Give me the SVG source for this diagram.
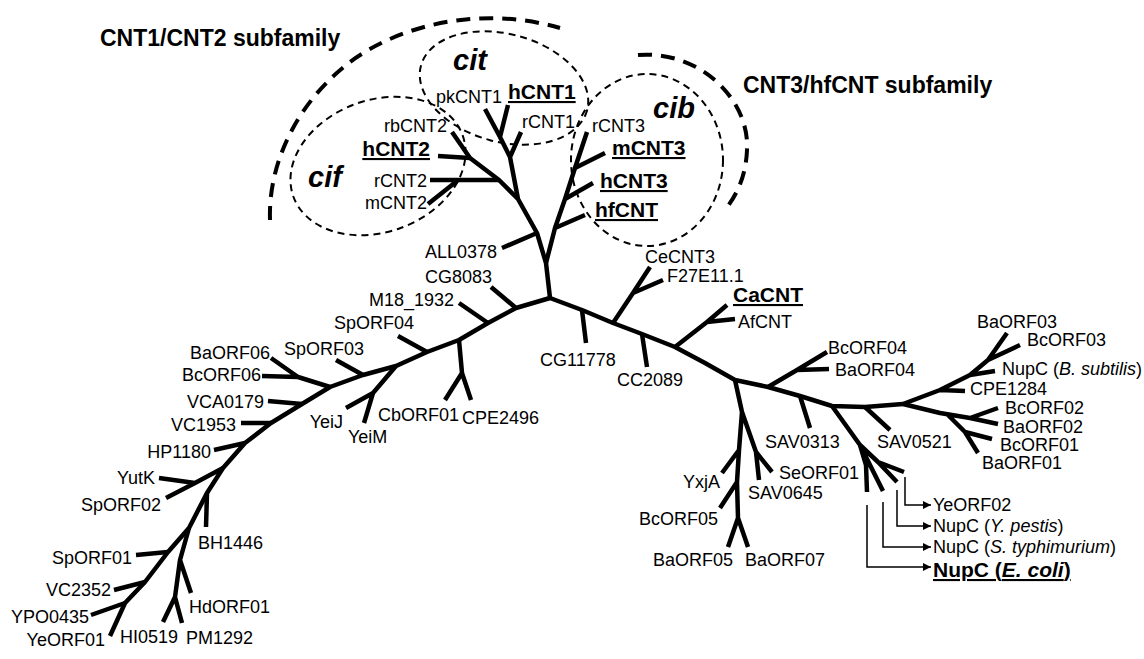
<svg xmlns="http://www.w3.org/2000/svg" width="1144" height="659" viewBox="0 0 1144 659">
<style>
.br{fill:none;stroke:#000;stroke-width:4.5;stroke-linejoin:round;stroke-linecap:butt}
.ar{fill:none;stroke:#000;stroke-width:1.5}
text{font-family:"Liberation Sans",Arial,sans-serif;font-size:18px;fill:#000}
.e{text-anchor:end}
.bd{font-weight:bold;font-size:21px;text-decoration:underline}
.ti{font-weight:bold;font-size:23px}
.cl{font-weight:bold;font-style:italic;font-size:29px}
.it{font-style:italic}
.dl{fill:none;stroke:#000;stroke-width:4;stroke-dasharray:14 9}
.ds{fill:none;stroke:#000;stroke-width:2;stroke-dasharray:7 5}
</style>
<defs>
<marker id="ah" viewBox="0 0 10 10" refX="10" refY="5" markerUnits="userSpaceOnUse" markerWidth="9" markerHeight="8" orient="auto"><path d="M0,0 L10,5 L0,10 z" fill="#000"/></marker>
</defs>
<rect width="1144" height="659" fill="#fff"/>

<g id="clades">
<path class="dl" d="M270,220 C268,160 300,100 350,62 C400,25 480,5 560,28"/>
<path class="dl" d="M638,55 C700,50 750,100 747,150 C746,175 738,192 728,206"/>
<ellipse class="ds" cx="504" cy="88" rx="86" ry="54" transform="rotate(15 504 88)"/>
<ellipse class="ds" cx="378" cy="166" rx="90" ry="66" transform="rotate(-20 378 166)"/>
<ellipse class="ds" cx="647" cy="160" rx="76" ry="86"/>
<g id="t-cnt12"><text class="ti" x="100" y="46">CNT1/CNT2 subfamily</text></g>
<g id="t-cnt3"><text class="ti" x="743" y="93">CNT3/hfCNT subfamily</text></g>
<g id="t-cit"><text class="cl" x="453" y="70">cit</text></g>
<g id="t-cif"><text class="cl" x="308" y="187">cif</text></g>
<g id="t-cib"><text class="cl" x="653" y="118">cib</text></g>
</g>

<g id="connectors">
<path class="br" d="M550,298 L546,263 L537,233 L518,199 L499,180 L470,158 L452,132"/>
<path class="br" d="M537,233 L502,248 M470,158 L438,156 M499,180 L430,180 M457,181 L428,204"/>
<path class="br" d="M518,199 L510,157 L500,137 L485,109 M500,137 L508,105 M510,157 L521,132"/>
<path class="br" d="M546,263 L555,228 L565,199 L575,168 L587,132 M555,228 L585,215 M565,199 L593,183 M575,168 L605,153"/>
<path class="br" d="M550,298 L516,308 L488,323 L459,340 L427,352 L396,366 L363,375 L330,387 L302,404 L271,423 L245,443 L223,468 L207,493 L189,528 L168,552 L145,582 L125,603 L110,636"/>
<path class="br" d="M516,308 L491,287 M488,323 L459,303 M459,340 L462,373 L445,400 M462,373 L471,400 M427,352 L398,336 M396,366 L373,393 L346,408 M373,393 L364,423 M363,375 L336,360 M330,387 L298,377 L271,358 M298,377 L262,376 M302,404 L268,401 M271,423 L241,423 M245,443 L214,450 M223,468 L195,483 L159,478 M195,483 L166,498 M207,493 L206,527 M189,528 L180,560 L191,593 M180,560 L175,597 L163,622 M175,597 L182,623 M168,552 L136,555 M145,582 L114,590 M125,603 L91,615"/>
<path class="br" d="M550,298 L582,310 L613,323 L642,334 L675,347 L705,363 L735,380 L768,387 L800,396 L832,406 L865,407 L903,404"/>
<path class="br" d="M582,310 L586,343 M613,323 L633,293 L650,267 M633,293 L663,280 M642,334 L647,367 M675,347 L707,322 L727,305 M707,322 L735,319"/>
<path class="br" d="M735,380 L742,412 L739,450 L737,482 L738,518 L728,547 M738,518 L748,547 M742,412 L756,452 L772,472 M756,452 L759,480 M739,450 L722,473 M737,482 L720,508"/>
<path class="br" d="M768,387 L797,370 L827,352 M797,370 L829,369 M800,396 L810,428 M865,407 L890,430"/>
<path class="br" d="M832,406 L860,445 L866,465 L867,492 M860,445 L883,491 M860,445 L878,462 L904,472 M878,462 L897,482"/>
<path class="br" d="M903,404 L940,390 L970,375 L988,360 L1007,333 M988,360 L1020,345 M940,390 L965,391 M970,375 L995,371"/>
<path class="br" d="M903,404 L940,413 L970,418 L998,408 M970,418 L998,424 M948,415 L965,432 L992,439 M965,432 L978,453"/>
<path class="ar" marker-end="url(#ah)" d="M905,477 V505 H931"/>
<path class="ar" marker-end="url(#ah)" d="M897,490 V526 H931"/>
<path class="ar" marker-end="url(#ah)" d="M883,502 V547 H931"/>
<path class="ar" marker-end="url(#ah)" d="M867,505 V567 H931"/>
</g>

<g id="n-pkCNT1"><text class="e" x="502" y="103">pkCNT1</text></g>
<g id="n-hCNT1"><text class="bd" x="508" y="99">hCNT1</text></g>
<g id="n-rCNT1"><text x="522" y="128">rCNT1</text></g>
<g id="n-rbCNT2"><text class="e" x="447" y="132">rbCNT2</text></g>
<g id="n-hCNT2"><text class="bd e" x="430" y="156">hCNT2</text></g>
<g id="n-rCNT2"><text class="e" x="427" y="187">rCNT2</text></g>
<g id="n-mCNT2"><text class="e" x="427" y="209">mCNT2</text></g>
<g id="n-rCNT3"><text x="592" y="132">rCNT3</text></g>
<g id="n-mCNT3"><text class="bd" x="612" y="155">mCNT3</text></g>
<g id="n-hCNT3"><text class="bd" x="600" y="188">hCNT3</text></g>
<g id="n-hfCNT"><text class="bd" x="595" y="217">hfCNT</text></g>
<g id="n-ALL0378"><text class="e" x="497" y="258">ALL0378</text></g>
<g id="n-CG8083"><text class="e" x="492" y="283">CG8083</text></g>
<g id="n-M18_1932"><text class="e" x="454" y="306">M18_1932</text></g>
<g id="n-SpORF04"><text class="e" x="414" y="329">SpORF04</text></g>
<g id="n-SpORF03"><text class="e" x="364" y="355">SpORF03</text></g>
<g id="n-BaORF06"><text class="e" x="270" y="359">BaORF06</text></g>
<g id="n-BcORF06"><text class="e" x="261" y="381">BcORF06</text></g>
<g id="n-VCA0179"><text class="e" x="264" y="408">VCA0179</text></g>
<g id="n-VC1953"><text class="e" x="236" y="431">VC1953</text></g>
<g id="n-HP1180"><text class="e" x="211" y="458">HP1180</text></g>
<g id="n-YutK"><text class="e" x="155" y="484">YutK</text></g>
<g id="n-SpORF02"><text class="e" x="161" y="511">SpORF02</text></g>
<g id="n-BH1446"><text x="198" y="549">BH1446</text></g>
<g id="n-SpORF01"><text class="e" x="132" y="564">SpORF01</text></g>
<g id="n-VC2352"><text class="e" x="111" y="596">VC2352</text></g>
<g id="n-YPO0435"><text class="e" x="89" y="623">YPO0435</text></g>
<g id="n-YeORF01"><text class="e" x="105" y="646">YeORF01</text></g>
<g id="n-HI0519"><text class="e" x="178" y="643">HI0519</text></g>
<g id="n-PM1292"><text x="186" y="644">PM1292</text></g>
<g id="n-HdORF01"><text x="189" y="613">HdORF01</text></g>
<g id="n-YeiJ"><text class="e" x="343" y="428">YeiJ</text></g>
<g id="n-YeiM"><text x="348" y="443">YeiM</text></g>
<g id="n-CbORF01"><text class="e" x="459" y="421">CbORF01</text></g>
<g id="n-CPE2496"><text x="462" y="424">CPE2496</text></g>
<g id="n-CG11778"><text x="540" y="366">CG11778</text></g>
<g id="n-CC2089"><text x="617" y="386">CC2089</text></g>
<g id="n-CeCNT3"><text x="645" y="263">CeCNT3</text></g>
<g id="n-F27E11.1"><text x="667" y="282">F27E11.1</text></g>
<g id="n-CaCNT"><text class="bd" x="733" y="302">CaCNT</text></g>
<g id="n-AfCNT"><text x="738" y="328">AfCNT</text></g>
<g id="n-BcORF04"><text x="828" y="354">BcORF04</text></g>
<g id="n-BaORF04"><text x="835" y="376">BaORF04</text></g>
<g id="n-BaORF03"><text x="977" y="328">BaORF03</text></g>
<g id="n-BcORF03"><text x="1027" y="346">BcORF03</text></g>
<g id="n-NupC-Bs"><text x="1002" y="375">NupC (<tspan class="it">B. subtilis</tspan>)</text></g>
<g id="n-CPE1284"><text x="970" y="395">CPE1284</text></g>
<g id="n-BcORF02"><text x="1005" y="414">BcORF02</text></g>
<g id="n-BaORF02"><text x="1003" y="433">BaORF02</text></g>
<g id="n-BcORF01"><text x="1000" y="451">BcORF01</text></g>
<g id="n-BaORF01"><text x="982" y="469">BaORF01</text></g>
<g id="n-SAV0313"><text x="765" y="448">SAV0313</text></g>
<g id="n-SAV0521"><text x="877" y="448">SAV0521</text></g>
<g id="n-SeORF01"><text x="779" y="479">SeORF01</text></g>
<g id="n-SAV0645"><text x="748" y="499">SAV0645</text></g>
<g id="n-YxjA"><text class="e" x="720" y="488">YxjA</text></g>
<g id="n-BcORF05"><text class="e" x="718" y="525">BcORF05</text></g>
<g id="n-BaORF05"><text class="e" x="733" y="566">BaORF05</text></g>
<g id="n-BaORF07"><text x="745" y="566">BaORF07</text></g>
<g id="n-YeORF02"><text x="933" y="511">YeORF02</text></g>
<g id="n-NupC-Yp"><text x="933" y="532">NupC (<tspan class="it">Y. pestis</tspan>)</text></g>
<g id="n-NupC-St"><text x="933" y="553">NupC (<tspan class="it">S. typhimurium</tspan>)</text></g>
<g id="n-NupC-Ec"><text class="bd" x="933" y="577">NupC (<tspan class="it">E. coli</tspan>)</text></g>
</svg>
